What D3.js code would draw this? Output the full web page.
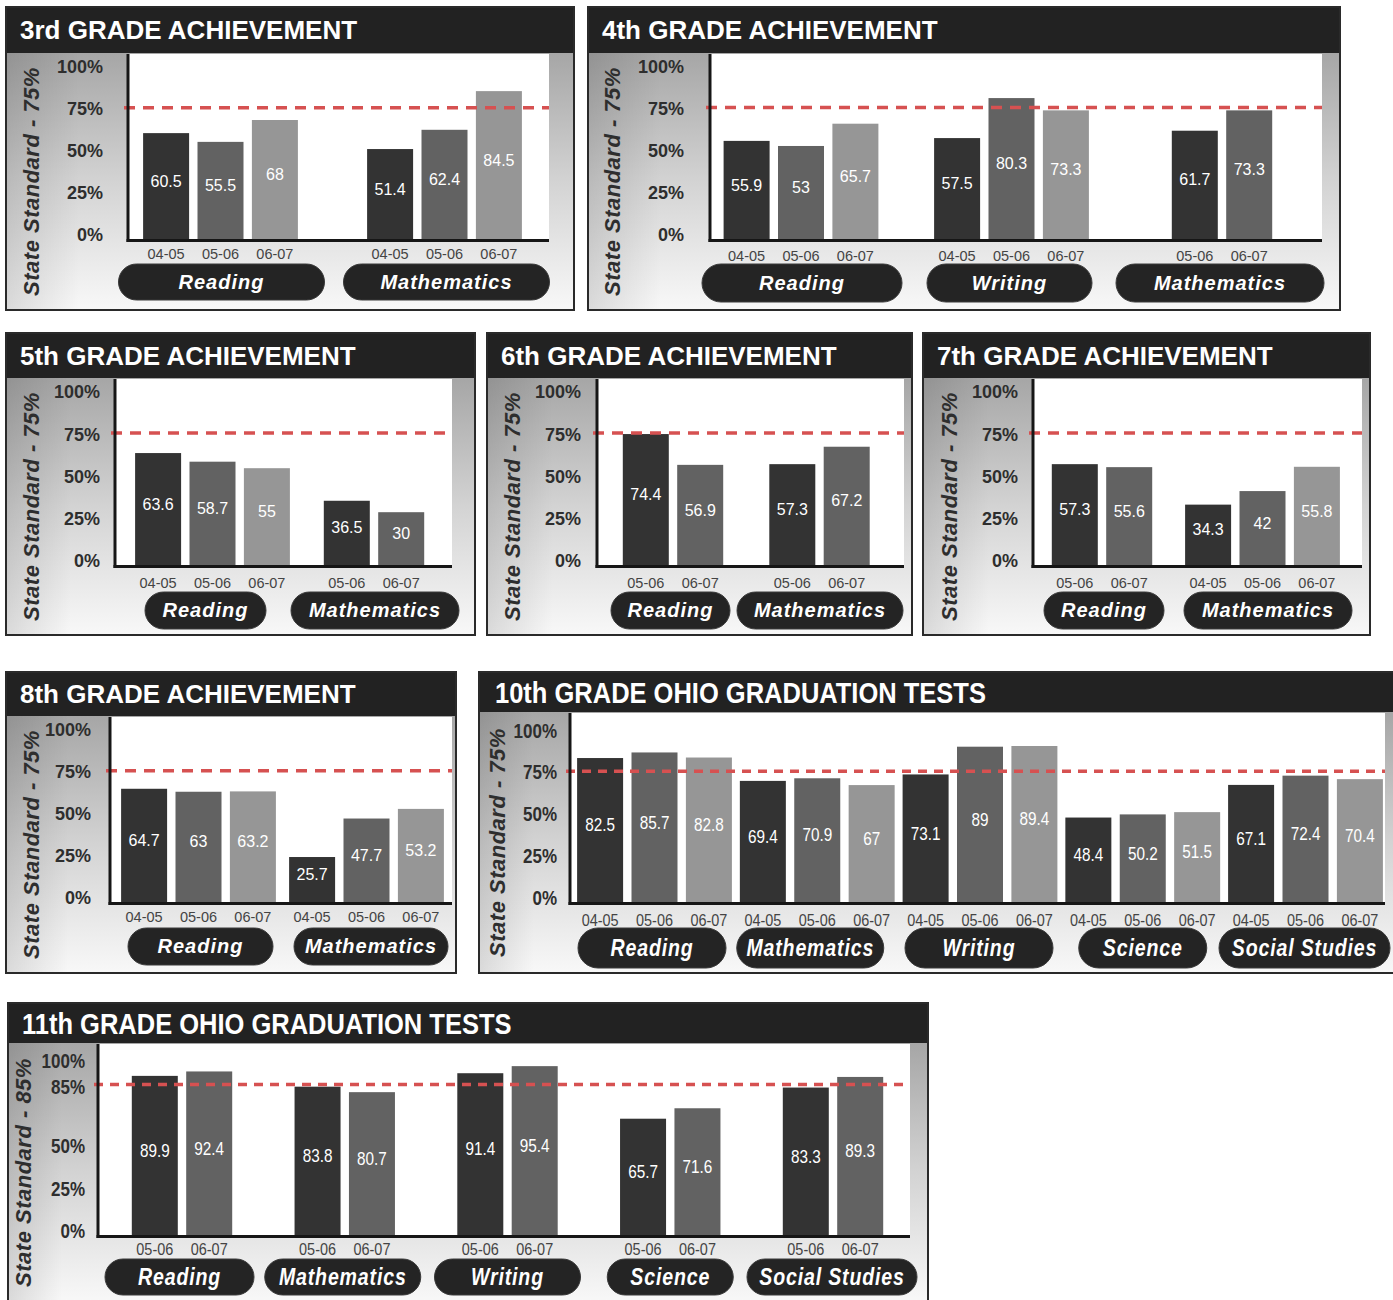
<!DOCTYPE html>
<html>
<head>
<meta charset="utf-8">
<script src="https://cdn.jsdelivr.net/npm/d3@7"></script>
<style>
body{margin:0;background:#fff;}
svg{display:block;}
text{font-family:"Liberation Sans",Arial,Helvetica,sans-serif;}
</style>
</head>
<body>
<div id="chart"></div>
<script>
// ---- data ----
var titles = ["3rd GRADE ACHIEVEMENT","4th GRADE ACHIEVEMENT","5th GRADE ACHIEVEMENT",
  "6th GRADE ACHIEVEMENT","7th GRADE ACHIEVEMENT","8th GRADE ACHIEVEMENT",
  "10th GRADE OHIO GRADUATION TESTS","11th GRADE OHIO GRADUATION TESTS"];

var g3Subjects = ["Reading","Mathematics"];
var g3Years = [["04-05","05-06","06-07"],["04-05","05-06","06-07"]];
var g3Values = [[60.5,55.5,68],[51.4,62.4,84.5]];

var g4Subjects = ["Reading","Writing","Mathematics"];
var g4Years = [["04-05","05-06","06-07"],["04-05","05-06","06-07"],["05-06","06-07"]];
var g4Values = [[55.9,53,65.7],[57.5,80.3,73.3],[61.7,73.3]];

var g5Subjects = ["Reading","Mathematics"];
var g5Years = [["04-05","05-06","06-07"],["05-06","06-07"]];
var g5Values = [[63.6,58.7,55],[36.5,30]];

var g6Subjects = ["Reading","Mathematics"];
var g6Years = [["05-06","06-07"],["05-06","06-07"]];
var g6Values = [[74.4,56.9],[57.3,67.2]];

var g7Subjects = ["Reading","Mathematics"];
var g7Years = [["05-06","06-07"],["04-05","05-06","06-07"]];
var g7Values = [[57.3,55.6],[34.3,42,55.8]];

var g8Subjects = ["Reading","Mathematics"];
var g8Years = [["04-05","05-06","06-07"],["04-05","05-06","06-07"]];
var g8Values = [[64.7,63,63.2],[25.7,47.7,53.2]];

var g10Subjects = ["Reading","Mathematics","Writing","Science","Social Studies"];
var g10Years = [["04-05","05-06","06-07"],["04-05","05-06","06-07"],["04-05","05-06","06-07"],
  ["04-05","05-06","06-07"],["04-05","05-06","06-07"]];
var g10Values = [[82.5,85.7,82.8],[69.4,70.9,67],[73.1,89,89.4],[48.4,50.2,51.5],[67.1,72.4,70.4]];

var g11Subjects = ["Reading","Mathematics","Writing","Science","Social Studies"];
var g11Years = [["05-06","06-07"],["05-06","06-07"],["05-06","06-07"],["05-06","06-07"],["05-06","06-07"]];
var g11Values = [[89.9,92.4],[83.8,80.7],[91.4,95.4],[65.7,71.6],[83.3,89.3]];

var ticks75 = [0,25,50,75,100];
var ticks85 = [0,25,50,85,100];
var standards = [75,75,75,75,75,75,75,85];
var axisTitles = ["State Standard - 75%","State Standard - 75%","State Standard - 75%",
  "State Standard - 75%","State Standard - 75%","State Standard - 75%",
  "State Standard - 75%","State Standard - 85%"];

var panels = [
  {subjects:g3Subjects, years:g3Years, values:g3Values, ticks:ticks75},
  {subjects:g4Subjects, years:g4Years, values:g4Values, ticks:ticks75},
  {subjects:g5Subjects, years:g5Years, values:g5Values, ticks:ticks75},
  {subjects:g6Subjects, years:g6Years, values:g6Values, ticks:ticks75},
  {subjects:g7Subjects, years:g7Years, values:g7Values, ticks:ticks75},
  {subjects:g8Subjects, years:g8Years, values:g8Values, ticks:ticks75},
  {subjects:g10Subjects, years:g10Years, values:g10Values, ticks:ticks75},
  {subjects:g11Subjects, years:g11Years, values:g11Values, ticks:ticks85}
];

// ---- layout ----
var barColors = ["#333333","#626262","#969696"];
var normalFont = {title:26, tick:18, axis:22, cat:14.5, val:16, pill:20, cond:1};
var narrowFont = {title:30, tick:20, axis:22, cat:17, val:18, pill:23, cond:0.85};

var layouts = [
  {x:6,y:7,w:568,h:303,titleH:46,tx:14,px0:128,px1:549,base:239,top:64,axX:39,tickX:103,catY:254,pillY:264,pillH:36,groups:[220.5,444.5],pillW:[206,206],pillDx:[1,2],font:normalFont},
  {x:588,y:7,w:752,h:303,titleH:46,tx:14,px0:710,px1:1322,base:239,top:63.5,axX:620,tickX:684,catY:256,pillY:264,pillH:38,groups:[801,1222],pillW:[200,165,208],pillDx:[1,-2,-2],font:normalFont},
  {x:6,y:333,w:469,h:302,titleH:45,tx:14,px0:115,px1:452,base:565,top:389,axX:39,tickX:100,catY:583,pillY:592,pillH:37,groups:[212.5,374],pillW:[121,168],pillDx:[-7,1],font:normalFont},
  {x:487,y:333,w:425,h:302,titleH:45,tx:14,px0:597,px1:904,base:565,top:389,axX:520,tickX:581,catY:583,pillY:592,pillH:37,groups:[673,819.5],pillW:[119,166],pillDx:[-2.5,0.5],font:normalFont},
  {x:923,y:333,w:447,h:302,titleH:45,tx:14,px0:1033,px1:1362,base:565,top:389,axX:957,tickX:1018,catY:583,pillY:592,pillH:37,groups:[1102,1262.5],pillW:[120,168],pillDx:[2,5.5],font:normalFont},
  {x:6,y:672,w:450,h:301,titleH:44,tx:14,px0:110,px1:452,base:902,top:727,axX:39,tickX:91,catY:917,pillY:928,pillH:37,groups:[198.5,366.5],pillW:[145,154],pillDx:[2,4.5],font:normalFont},
  {x:479,y:672,w:916,h:301,titleH:40,tx:16,px0:570,px1:1385,base:902,top:727.5,axX:505,tickX:557,catY:920,pillY:928,pillH:40,groups:[654.5,1305.5],pillW:[148,147,148,128,171],pillDx:[-2.5,-7,-1,0,-1],font:narrowFont},
  {x:8,y:1003,w:920,h:299,titleH:40,tx:14,px0:98,px1:910,base:1235,top:1058,axX:31,tickX:85,catY:1249,pillY:1259,pillH:36,groups:[182,833],pillW:[149,156,146,126,170],pillDx:[-2.5,-2,0,0,-1],font:narrowFont}
];

var barStep = 54.4, barPad = 8.4/54.4;

var svg = d3.select("#chart").append("svg")
  .attr("width",1393)
  .attr("height",1300);

var defs = svg.append("defs");
var bodyGrad = defs.append("linearGradient").attr("id","bodyGrad")
  .attr("x1",0).attr("y1",0).attr("x2",0).attr("y2",1);
bodyGrad.append("stop").attr("offset",0).attr("stop-color","#a6a6a6");
bodyGrad.append("stop").attr("offset",0.5).attr("stop-color","#d3d3d3");
bodyGrad.append("stop").attr("offset",1).attr("stop-color","#f8f8f8");
var edgeGrad = defs.append("linearGradient").attr("id","edgeGrad");
edgeGrad.append("stop").attr("offset",0).attr("stop-color","#000").attr("stop-opacity",0.12);
edgeGrad.append("stop").attr("offset",1).attr("stop-color","#000").attr("stop-opacity",0);

// text that can be squeezed horizontally
function label(g, x, y, cond, str) {
  return g.append("text")
    .attr("transform","translate("+x+","+y+") scale("+cond+",1)")
    .text(str);
}

function drawPanel(p, k, L) {
  var F = L.font;
  var g = svg.append("g");
  var bodyY = L.y + L.titleH;
  var bodyH = L.h - L.titleH;

  g.append("rect").attr("x",L.x).attr("y",bodyY).attr("width",L.w).attr("height",bodyH)
    .attr("fill","url(#bodyGrad)");
  g.append("rect").attr("x",L.x).attr("y",bodyY).attr("width",(L.px0-L.x)*0.6).attr("height",bodyH)
    .attr("fill","url(#edgeGrad)");

  var y = d3.scaleLinear().domain([0,100]).range([L.base, L.top]);
  var yLab = d3.scaleLinear().domain([0,100]).range([L.base-4, L.top+3]);

  g.append("rect").attr("x",L.px0).attr("y",bodyY+1)
    .attr("width",L.px1-L.px0).attr("height",L.base-bodyY-1)
    .attr("fill","#fff");

  var gx = d3.scalePoint().domain(p.subjects).range(L.groups);

  p.subjects.forEach(function(s, gi){
    var yrs = p.years[gi], vals = p.values[gi];
    var c = gx(s);
    var bx = d3.scaleBand().domain(yrs)
      .range([c - yrs.length*barStep/2, c + yrs.length*barStep/2])
      .paddingInner(barPad).paddingOuter(barPad/2);
    vals.forEach(function(v, i){
      var cx = bx(yrs[i]) + bx.bandwidth()/2;
      g.append("rect")
        .attr("x",bx(yrs[i])).attr("y",y(v))
        .attr("width",bx.bandwidth()).attr("height",y(0)-y(v))
        .attr("fill",barColors[i]);
      label(g, cx, (y(v)+y(0))/2 - 5, F.cond, String(v))
        .attr("dy","0.35em").attr("text-anchor","middle")
        .attr("fill","#fff").attr("font-size",F.val);
      label(g, cx, L.catY, F.cond, yrs[i])
        .attr("dy","0.35em").attr("text-anchor","middle")
        .attr("fill","#444").attr("font-size",F.cat);
    });
    var pw = L.pillW[gi], pc = c + L.pillDx[gi];
    g.append("rect")
      .attr("x",pc-pw/2).attr("y",L.pillY)
      .attr("width",pw).attr("height",L.pillH)
      .attr("rx",L.pillH/2).attr("ry",L.pillH/2)
      .attr("fill","#242424")
      .attr("stroke","#3a3a3a").attr("stroke-width",1);
    label(g, pc, L.pillY + L.pillH/2, F.cond, s)
      .attr("dy","0.33em").attr("text-anchor","middle")
      .attr("fill","#fff").attr("font-size",F.pill)
      .attr("font-weight","bold").attr("font-style","italic")
      .attr("letter-spacing",1);
  });

  // state standard line
  g.append("line")
    .attr("x1",L.px0-4).attr("x2",L.px1)
    .attr("y1",y(standards[k])).attr("y2",y(standards[k]))
    .attr("stroke","#d65151").attr("stroke-width",3.5)
    .attr("stroke-dasharray", F.cond < 1 ? "9,7" : "11,8");

  // axes
  g.append("line")
    .attr("x1",L.px0).attr("x2",L.px0)
    .attr("y1",bodyY+1).attr("y2",L.base+3)
    .attr("stroke","#161616").attr("stroke-width",3);
  g.append("line")
    .attr("x1",L.px0-1.5).attr("x2",L.px1)
    .attr("y1",L.base+1.5).attr("y2",L.base+1.5)
    .attr("stroke","#161616").attr("stroke-width",3);

  p.ticks.forEach(function(t){
    label(g, L.tickX, yLab(t), F.cond, t+"%")
      .attr("dy","0.35em").attr("text-anchor","end")
      .attr("fill","#2e2e2e").attr("font-size",F.tick).attr("font-weight","bold");
  });

  g.append("text")
    .attr("transform","translate("+L.axX+","+(bodyY+bodyH/2)+") rotate(-90)")
    .attr("text-anchor","middle")
    .attr("fill","#2e2e2e").attr("font-size",F.axis)
    .attr("font-weight","bold").attr("font-style","italic")
    .attr("letter-spacing",0.5)
    .text(axisTitles[k]);

  // title bar
  g.append("rect").attr("x",L.x).attr("y",L.y).attr("width",L.w).attr("height",L.titleH)
    .attr("fill","#222");
  label(g, L.x+L.tx, L.y+L.titleH/2, F.cond, titles[k])
    .attr("dy","0.36em")
    .attr("fill","#fff").attr("font-size",F.title).attr("font-weight","bold");

  g.append("rect").attr("x",L.x).attr("y",L.y).attr("width",L.w).attr("height",L.h)
    .attr("fill","none").attr("stroke","#2a2a2a").attr("stroke-width",2);
}

panels.forEach(function(p, k){
  drawPanel(p, k, layouts[k]);
});
</script>
</body>
</html>
